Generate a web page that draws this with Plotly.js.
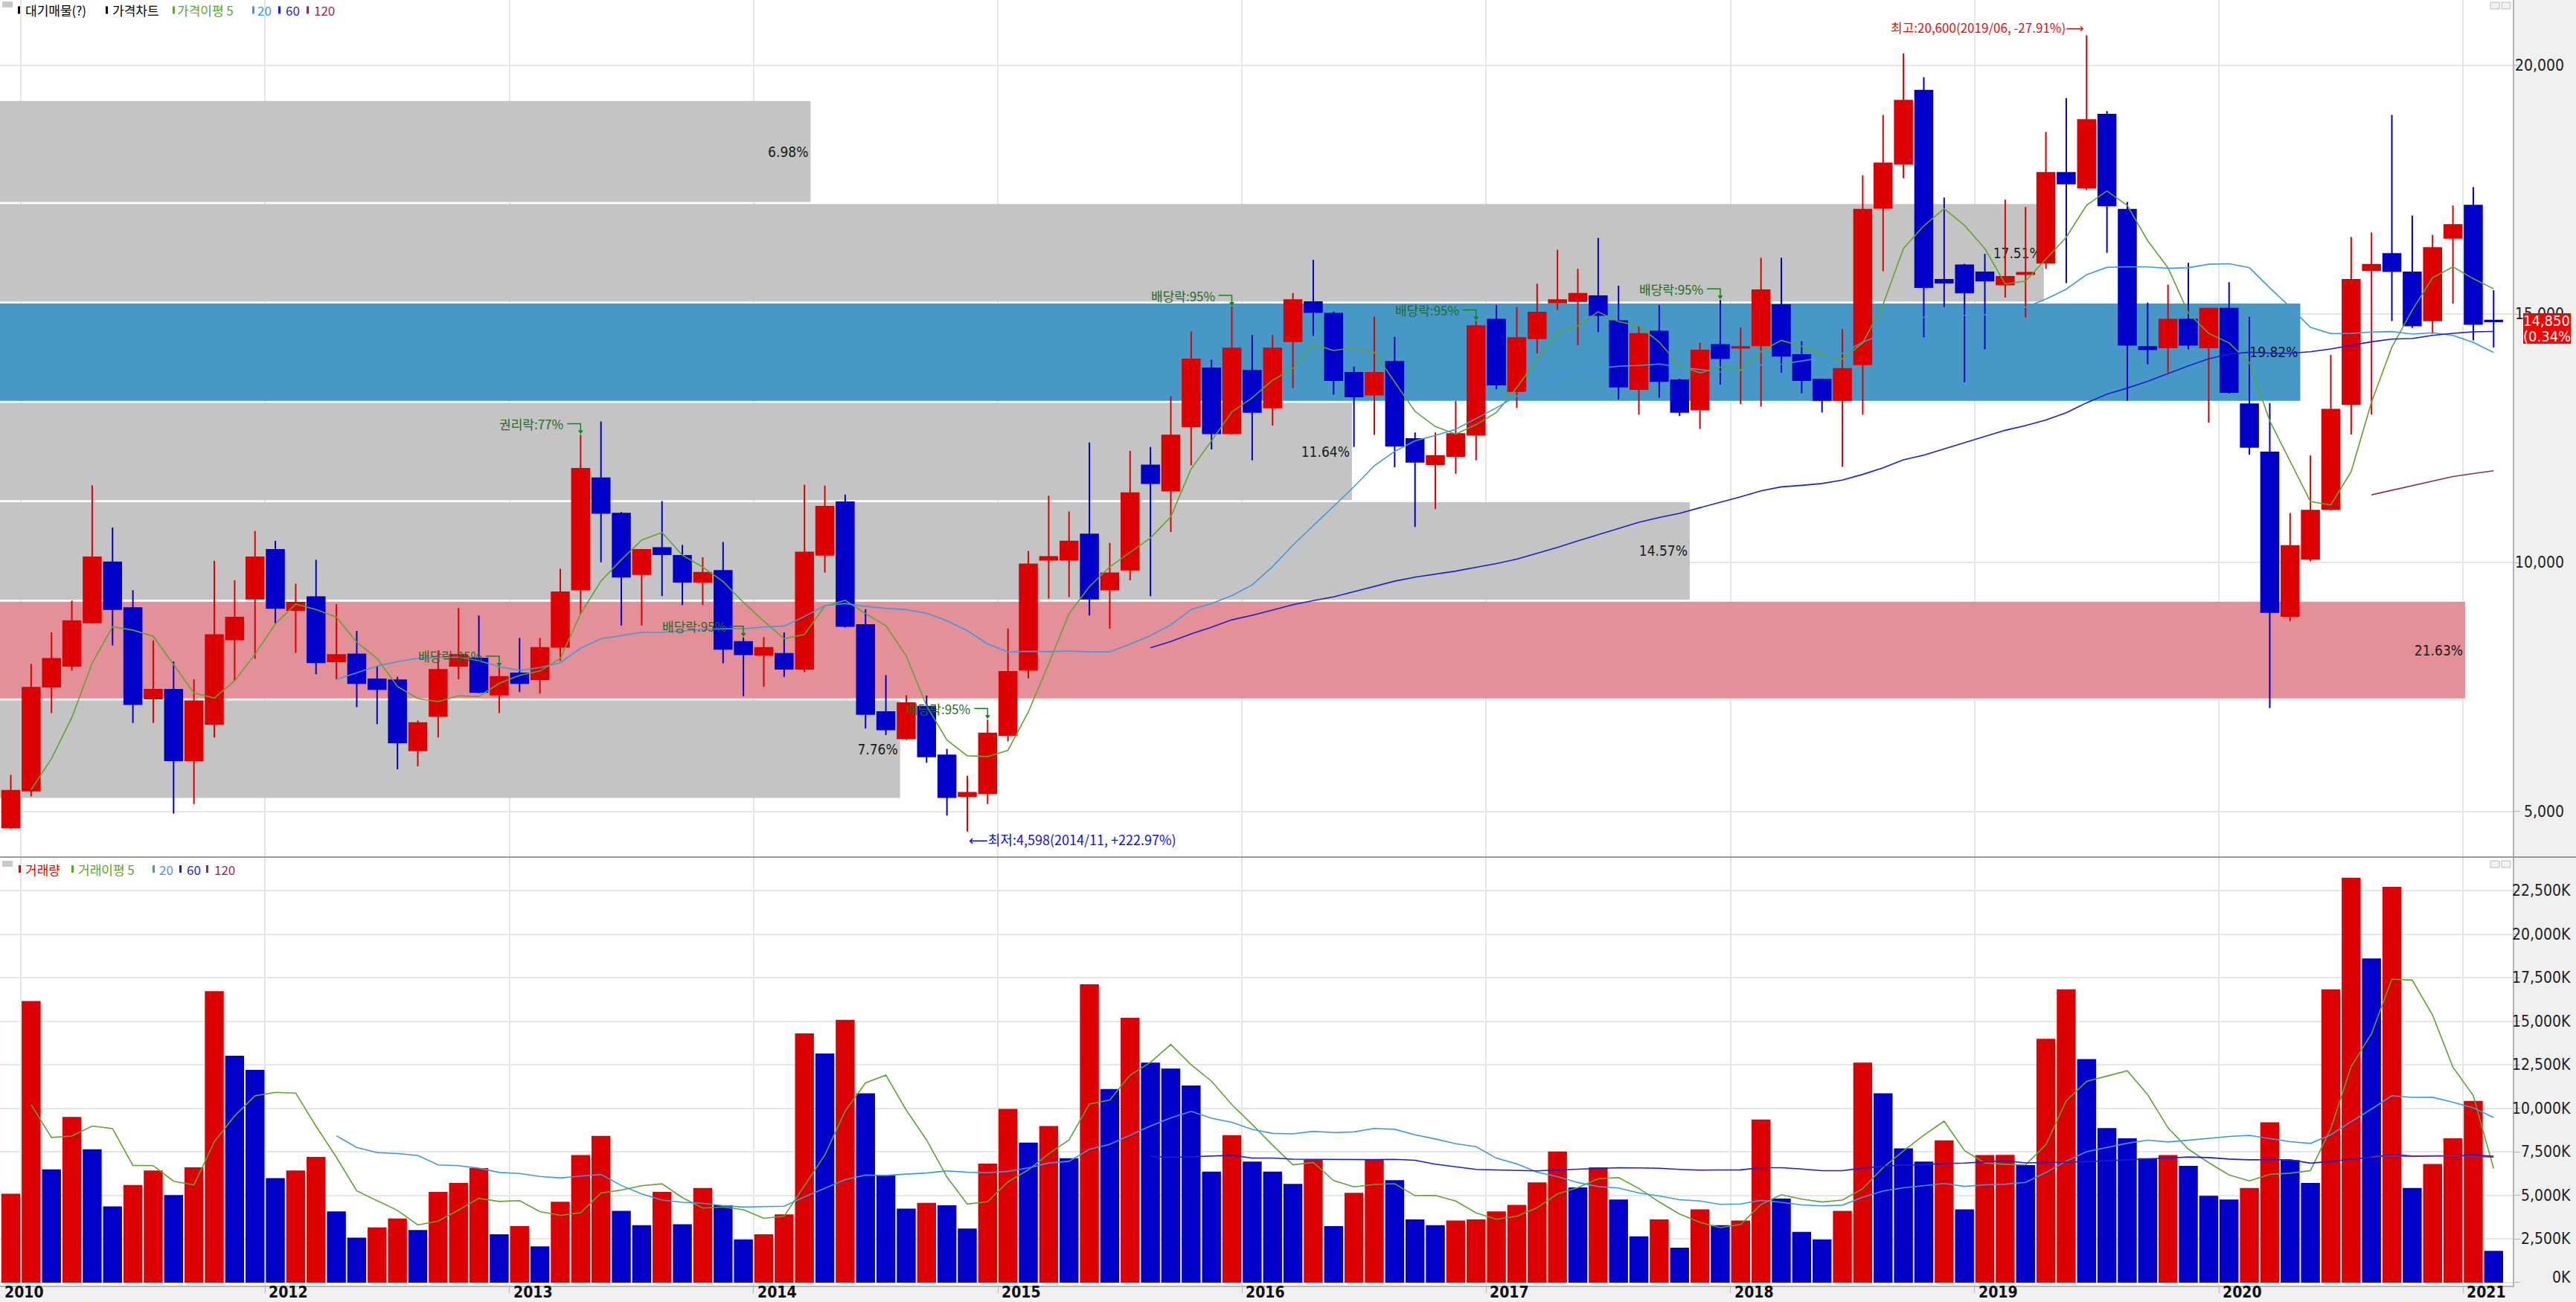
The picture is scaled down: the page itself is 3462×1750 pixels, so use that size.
<!DOCTYPE html>
<html>
<head>
<meta charset="utf-8">
<script src="https://cdn.plot.ly/plotly-3.0.1.min.js"></script>
<style>
  html, body { margin: 0; padding: 0; background: #f0f0f0; }
  #chart { width: 3462px; height: 1750px; }
</style>
</head>
<body>
<div id="chart"></div>
<script>
// ---------------- DATA (monthly candles) ----------------
const months = [
  '2010/12',
  '2011/01','2011/02','2011/03','2011/04','2011/05','2011/06','2011/07','2011/08','2011/09','2011/10','2011/11','2011/12',
  '2012/01','2012/02','2012/03','2012/04','2012/05','2012/06','2012/07','2012/08','2012/09','2012/10','2012/11','2012/12',
  '2013/01','2013/02','2013/03','2013/04','2013/05','2013/06','2013/07','2013/08','2013/09','2013/10','2013/11','2013/12',
  '2014/01','2014/02','2014/03','2014/04','2014/05','2014/06','2014/07','2014/08','2014/09','2014/10','2014/11','2014/12',
  '2015/01','2015/02','2015/03','2015/04','2015/05','2015/06','2015/07','2015/08','2015/09','2015/10','2015/11','2015/12',
  '2016/01','2016/02','2016/03','2016/04','2016/05','2016/06','2016/07','2016/08','2016/09','2016/10','2016/11','2016/12',
  '2017/01','2017/02','2017/03','2017/04','2017/05','2017/06','2017/07','2017/08','2017/09','2017/10','2017/11','2017/12',
  '2018/01','2018/02','2018/03','2018/04','2018/05','2018/06','2018/07','2018/08','2018/09','2018/10','2018/11','2018/12',
  '2019/01','2019/02','2019/03','2019/04','2019/05','2019/06','2019/07','2019/08','2019/09','2019/10','2019/11','2019/12',
  '2020/01','2020/02','2020/03','2020/04','2020/05','2020/06','2020/07','2020/08','2020/09','2020/10','2020/11','2020/12',
  '2021/01','2021/02'
];

const openPx = [
  4680,
  5420,7510,7930,8800,10010,9090,7270,7450,6030,6760,8460,9280,
  10260,9050,9310,8020,8160,7660,7640,6230,6920,7930,8080,7350,
  7780,7660,8310,9460,11700,10990,9770,10300,10140,9620,9840,8410,
  8150,8170,7870,10160,11220,8750,7000,6470,7110,6130,5310,5370,
  6540,7850,10060,10060,10570,9460,9860,11960,11450,12740,13910,12600,
  13860,13120,14450,15240,15010,13820,13380,14040,12490,11980,12140,12570,
  14890,13450,14510,15230,15260,15360,14860,13490,14650,13670,13080,14380,
  14320,14370,15180,14180,13680,13270,13990,17130,18020,19490,15690,15980,
  15840,15590,15800,16030,17840,17540,19010,17100,14340,14330,14890,14330,
  15110,13190,12220,8930,10080,11080,13190,15880,16210,15840,14870,16530,
  17180,14870
];
const highPx = [
  5740,
  7970,8600,9240,11560,10710,9450,8440,8020,7660,10040,9650,10640,
  10440,9580,10060,9170,8630,7930,7710,6830,8240,9090,8940,7900,
  8490,8490,9880,12570,12840,11020,10280,11240,10360,10110,10420,8500,
  8510,8600,11570,11550,11370,9070,7740,7340,7330,6260,5720,6850,
  8680,10240,11350,11030,12420,10400,12250,12330,13350,14650,14080,15150,
  14580,14580,15420,16090,15050,13940,14950,14540,12620,12620,13250,14860,
  15180,15140,15610,16290,15910,16530,15570,14760,15180,13700,14420,15280,
  14730,16130,16130,14450,13700,14700,17790,19000,20240,19760,17340,16010,
  16210,17300,17150,18660,19340,20600,19080,17250,15230,15590,16030,15120,
  15640,14940,13210,11000,12160,14180,16550,16640,19000,16980,16590,17180,
  17550,15480
];
const lowPx = [
  4650,
  5310,6980,7830,8780,8340,6780,6780,4960,5150,6490,7630,8070,
  8780,8190,7760,7660,7100,6760,5850,5910,6490,7660,7380,6980,
  7400,7370,8030,8970,10010,8740,8740,9330,9150,9150,7980,7320,
  7510,7710,7800,9800,8700,6670,6540,6440,5980,4920,4598,5150,
  6410,7680,9280,9310,8940,8680,9650,9330,10620,11960,12280,12580,
  12060,12760,13510,14560,13380,12330,12570,11920,10720,11080,11790,12060,
  13490,13110,14210,15080,14370,14640,13280,12980,13320,12950,12690,13580,
  13190,13140,13820,13410,13020,11930,12980,15860,17730,14530,15140,13630,
  14290,15330,14930,15910,15620,17490,16230,13260,13990,13820,14290,12820,
  13400,12170,7080,8830,10030,11050,12580,12980,14860,14720,14600,15210,
  14470,14330
];
const closePx = [
  5420,
  7490,8070,8830,10110,9070,7160,7450,6030,7220,8550,8900,10110,
  9090,9200,8000,8150,7580,7460,6390,6780,7850,8150,7400,7710,
  7580,8290,9410,11890,11000,9720,10260,10170,9620,9800,8270,8160,
  8290,7870,10210,11130,8730,6960,6650,7180,6110,5290,5380,6570,
  7810,9970,10120,10430,9280,9790,11400,11600,12560,14090,12600,14310,
  13030,14310,15280,15040,13670,13340,13820,12350,12030,12150,12590,14760,
  13580,14520,15030,15280,15410,14980,13540,14600,13650,13030,14270,14110,
  14340,15480,14160,13670,13270,13900,17100,18030,19290,15540,15630,15430,
  15670,15750,15830,17840,17620,18900,17180,14380,14290,14890,14380,15110,
  13430,12330,9010,10340,11050,13080,15690,15990,15860,14770,16330,16790,
  14800,14850
];
// monthly volume, thousands of shares
const volumeK = [
  5100,
  16160,6500,9510,7650,4380,5600,6440,5030,6620,16730,13020,12210,
  6000,6440,7220,4090,2580,3170,3680,3020,5210,5720,6570,2780,
  3240,2080,4640,7320,8420,4120,3300,5210,3350,5430,4440,2480,
  2780,3920,14300,13150,15080,10870,6160,4250,4580,4440,3110,6830,
  9970,8040,8990,7140,17120,11110,15200,12630,12290,11310,6370,8460,
  6950,6370,5670,7060,3240,5150,7060,5880,3630,3300,3560,3630,
  4090,4460,5750,7520,5470,6620,4770,2660,3630,2010,4200,3300,
  3560,9360,4820,2910,2480,4120,12630,10870,7710,6950,8170,4200,
  7320,7330,6750,13990,16830,12830,8870,8280,7140,7320,6700,4980,
  4770,5430,9200,7030,5720,16830,23240,18600,22710,5430,6810,8280,
  10430,1830
];
// the three months before the visible window (2010/09-2010/11), only used by the moving averages
const preWindowClose = [4950, 4700, 4640];
const preWindowVolumeK = [15900, 9100, 4800];
const maPeriods = [5, 20, 60, 120];

// 대기매물 (volume-at-price) bands
const bandLow   = [5256, 7253, 9240, 11238, 13236, 15232, 17230];
const bandHigh  = [7253, 9240, 11238, 13236, 15232, 17230, 19300];
const bandPct   = [7.76, 21.63, 14.57, 11.64, 19.82, 17.51, 6.98];
const bandReach = [43.7, 120.6, 82.5, 65.9, 112.5, 99.9, 39.3];   // bar length, in months from the left edge

const priceTicks = [5000, 10000, 15000, 20000];
const volumeTicksK = [0, 2500, 5000, 7500, 10000, 12500, 15000, 17500, 20000, 22500];
const yearLabels = ['2010','2012','2013','2014','2015','2016','2017','2018','2019','2020','2021'];
const yearLabelStart = ['2010/12','2012/01','2013/01','2014/01','2015/01','2016/01','2017/01','2018/01','2019/01','2020/01','2021/01'];

const eventMonths = ['2012/12','2013/04','2013/12','2014/12','2015/12','2016/12','2017/12'];
const eventLabels = ['배당락:95%','권리락:77%','배당락:95%','배당락:95%','배당락:95%','배당락:95%','배당락:95%'];

// ---------------- STYLE / LAYOUT ----------------
const W = 3462, H = 1750, MR = 85, MB = 22;
const PW = W - MR, PH = H - MB;
const px2x = px => px / PW;
const px2y = py => 1 - py / PH;

const RED = '#dc0000', BLUE = '#0000c8';
const MA_COLORS = ['#5ca62a', '#3a9be2', '#1d1dd2', '#8e2b5c'];
const NUM_FONT = '"Liberation Sans Narrow", "Arial Narrow", "DejaVu Sans Condensed", sans-serif';
const KR_FONT = '"Noto Sans CJK KR", "DejaVu Sans", sans-serif';
const fmt = v => v.toLocaleString('en-US');

const idx = months.map((m, i) => i);

function movingAverage(pre, vals, n) {
  const all = pre.concat(vals);
  return vals.map((v, i) => {
    const end = i + pre.length;
    if (end + 1 < n) return null;
    let s = 0;
    for (let k = end - n + 1; k <= end; k++) s += all[k];
    return s / n;
  });
}

const lastClose = closePx[closePx.length - 1];
const prevClose = closePx[closePx.length - 2];

// band colours: biggest band pink, band holding the last close blue
const maxPct = Math.max(...bandPct);
const bandColors = bandPct.map((p, k) => {
  if (lastClose >= bandLow[k] && lastClose < bandHigh[k]) return '#4898c7';
  if (p === maxPct) return '#e39098';
  return '#c4c4c4';
});
const BAND_BASE = -1;

const volColors = volumeK.map((v, i) => {
  const prev = i === 0 ? preWindowVolumeK[preWindowVolumeK.length - 1] : volumeK[i - 1];
  return v > prev ? RED : BLUE;
});

const traces = [];
traces.push({
  type: 'bar', orientation: 'h', xaxis: 'x', yaxis: 'y',
  y: bandLow.map((lo, k) => (lo + bandHigh[k]) / 2),
  x: bandReach.map(r => r - BAND_BASE),
  base: BAND_BASE,
  width: bandLow.map((lo, k) => bandHigh[k] - lo - 40),
  marker: { color: bandColors, line: { width: 0 } },
  text: bandPct.map(p => p.toFixed(2) + '%'),
  textposition: 'inside', insidetextanchor: 'end', textangle: 0, constraintext: 'none',
  insidetextfont: { family: NUM_FONT, size: 19, color: '#1a1a1a' },
  hoverinfo: 'skip'
});
traces.push({
  type: 'bar', xaxis: 'x', yaxis: 'y2', x: idx, y: volumeK, width: 0.93,
  marker: { color: volColors, line: { width: 0 } }, hoverinfo: 'skip'
});
traces.push({
  type: 'candlestick', xaxis: 'x', yaxis: 'y', x: idx,
  open: openPx, high: highPx, low: lowPx, close: closePx,
  increasing: { line: { color: RED, width: 2 }, fillcolor: RED },
  decreasing: { line: { color: BLUE, width: 2 }, fillcolor: BLUE },
  whiskerwidth: 0, hoverinfo: 'skip'
});
maPeriods.forEach((n, k) => {
  traces.push({ type: 'scatter', mode: 'lines', xaxis: 'x', yaxis: 'y', x: idx,
    y: movingAverage(preWindowClose, closePx, n), line: { color: MA_COLORS[k], width: 1.6 }, hoverinfo: 'skip' });
});
maPeriods.forEach((n, k) => {
  traces.push({ type: 'scatter', mode: 'lines', xaxis: 'x', yaxis: 'y2', x: idx,
    y: movingAverage(preWindowVolumeK, volumeK, n), line: { color: MA_COLORS[k], width: 1.6 }, hoverinfo: 'skip' });
});

const shapes = [];
const annotations = [];

// panel separator
shapes.push({ type: 'line', xref: 'paper', yref: 'paper', x0: 0, x1: px2x(W), y0: px2y(1152), y1: px2y(1152),
  line: { color: '#9a9a9a', width: 2 }, layer: 'above' });

// legends
function legendRow(yc, boxY0, items) {
  shapes.push({ type: 'rect', xref: 'paper', yref: 'paper', x0: px2x(3), x1: px2x(17), y0: px2y(boxY0), y1: px2y(boxY0 + 8),
    fillcolor: '#c8c8c8', line: { width: 0 }, layer: 'above' });
  items.forEach(it => {
    shapes.push({ type: 'rect', xref: 'paper', yref: 'paper', x0: px2x(it.m), x1: px2x(it.m + 3), y0: px2y(yc - 5), y1: px2y(yc + 5),
      fillcolor: it.c, line: { width: 0 }, layer: 'above' });
    annotations.push({ xref: 'paper', yref: 'paper', x: px2x(it.t), y: px2y(yc), xanchor: 'left', yanchor: 'middle',
      text: it.s, showarrow: false, font: { family: KR_FONT, size: 17, color: it.c } });
  });
}
legendRow(13.5, 2, [
  { m: 24, t: 32, s: '대기매물(?)', c: '#000000' },
  { m: 142, t: 149, s: '가격차트', c: '#000000' },
  { m: 232, t: 236, s: '가격이평 5', c: MA_COLORS[0] },
  { m: 339, t: 344, s: '20', c: MA_COLORS[1] },
  { m: 374, t: 382, s: '60', c: MA_COLORS[2] },
  { m: 412, t: 420, s: '120', c: MA_COLORS[3] }
]);
legendRow(1168, 1157, [
  { m: 25, t: 32, s: '거래량', c: '#e00000' },
  { m: 96, t: 103, s: '거래이평 5', c: MA_COLORS[0] },
  { m: 205, t: 212, s: '20', c: MA_COLORS[1] },
  { m: 241, t: 249, s: '60', c: MA_COLORS[2] },
  { m: 277, t: 286, s: '120', c: MA_COLORS[3] }
]);
// panel buttons (top right)
[3, 1157].forEach(y0 => {
  [3347, 3362].forEach(x0 => {
    shapes.push({ type: 'rect', xref: 'paper', yref: 'paper', x0: px2x(x0), x1: px2x(x0 + 12), y0: px2y(y0), y1: px2y(y0 + 9),
      fillcolor: '#f2f2f2', line: { color: '#bcbcbc', width: 1 }, layer: 'above' });
  });
});

// right axis labels
priceTicks.forEach(v => annotations.push({ xref: 'paper', yref: 'y', x: px2x(3448), y: v, xanchor: 'right', yanchor: 'middle',
  text: fmt(v), showarrow: false, font: { family: NUM_FONT, size: 21, color: '#222' } }));
volumeTicksK.forEach(v => annotations.push({ xref: 'paper', yref: 'y2', x: px2x(3457), y: v, xanchor: 'right', yanchor: 'middle',
  yshift: v === 0 ? 7 : 0, text: fmt(v) + 'K', showarrow: false, font: { family: NUM_FONT, size: 21, color: '#222' } }));

// current price box
const chg = ((lastClose / prevClose - 1) * 100).toFixed(2);
annotations.push({ xref: 'paper', yref: 'y', x: px2x(3455), y: lastClose, xanchor: 'right', yanchor: 'top', yshift: 11,
  width: 64, height: 20, borderpad: 0, borderwidth: 0, bgcolor: '#ff0000', align: 'left',
  text: fmt(lastClose), showarrow: false, font: { family: NUM_FONT, size: 20, color: '#ffffff' } });
annotations.push({ xref: 'paper', yref: 'y', x: px2x(3455), y: lastClose, xanchor: 'right', yanchor: 'top', yshift: -9,
  width: 64, height: 21, borderpad: 0, borderwidth: 0, bgcolor: '#ff0000', align: 'left',
  text: '(' + chg + '%)', showarrow: false, font: { family: NUM_FONT, size: 20, color: '#ffffff' } });

// x labels
yearLabels.forEach((t, k) => {
  const i = months.indexOf(yearLabelStart[k]);
  annotations.push({ xref: 'x', yref: 'paper', x: i - 0.5, y: px2y(1737), xanchor: 'left', yanchor: 'middle', xshift: 3,
    text: '<b>' + t + '</b>', showarrow: false, font: { family: NUM_FONT, size: 21, color: '#111' } });
});

// rights / dividend markers
eventMonths.forEach((m, k) => {
  const i = months.indexOf(m);
  const h = highPx[i];
  annotations.push({ xref: 'x', yref: 'y', x: i, y: h, xanchor: 'right', yanchor: 'middle', xshift: -21, yshift: 15,
    text: eventLabels[k], showarrow: false, font: { family: KR_FONT, size: 17, color: '#236b23' } });
  shapes.push({ type: 'path', xref: 'x', yref: 'y', xsizemode: 'pixel', ysizemode: 'pixel', xanchor: i, yanchor: h,
    path: 'M -18 15 L 0 15 L 0 5', line: { color: '#0b8a0b', width: 1.5 }, layer: 'above' });
  shapes.push({ type: 'path', xref: 'x', yref: 'y', xsizemode: 'pixel', ysizemode: 'pixel', xanchor: i, yanchor: h,
    path: 'M -3.5 6 L 3.5 6 L 0 1 Z', fillcolor: '#0b8a0b', line: { width: 0 }, layer: 'above' });
});

// highest / lowest markers
const maxHigh = Math.max(...highPx), iMax = highPx.indexOf(maxHigh);
const minLow = Math.min(...lowPx), iMin = lowPx.indexOf(minLow);
annotations.push({ xref: 'x', yref: 'y', x: iMax, y: maxHigh, xanchor: 'right', yanchor: 'middle', xshift: -1, yshift: 11,
  text: '최고:' + fmt(maxHigh) + '(' + months[iMax] + ', ' + ((lastClose / maxHigh - 1) * 100).toFixed(2) + '%)⟶',
  showarrow: false, font: { family: KR_FONT, size: 17, color: '#e01010' } });
annotations.push({ xref: 'x', yref: 'y', x: iMin, y: minLow, xanchor: 'left', yanchor: 'middle', xshift: 0, yshift: -10,
  text: '⟵최저:' + fmt(minLow) + '(' + months[iMin] + ', +' + ((lastClose / minLow - 1) * 100).toFixed(2) + '%)',
  showarrow: false, font: { family: KR_FONT, size: 18, color: '#1010e0' } });

const gridPos = months.map((m, i) => m.endsWith('/01') ? i - 0.5 : null).filter(v => v !== null);

const layout = {
  width: W, height: H,
  margin: { l: 0, r: MR, t: 0, b: MB, pad: 0 },
  paper_bgcolor: '#f0f0f0', plot_bgcolor: '#ffffff',
  showlegend: false,
  boxgap: 0.14, boxgroupgap: 0,
  font: { family: NUM_FONT, size: 18, color: '#222' },
  xaxis: {
    domain: [0, 1], range: [-0.53, 122.94], anchor: 'y2',
    tickmode: 'array', tickvals: gridPos, showticklabels: false,
    ticks: 'outside', ticklen: 8, tickwidth: 1, tickcolor: '#b4b4b4',
    showgrid: true, gridcolor: '#e6e6e6', gridwidth: 2, zeroline: false,
    showline: true, linecolor: '#b4b4b4', linewidth: 2,
    rangeslider: { visible: false }, fixedrange: true
  },
  yaxis: {
    domain: [px2y(1151), 1], range: [4101, 21311], side: 'right', anchor: 'x',
    tickmode: 'array', tickvals: priceTicks, showticklabels: false,
    ticks: 'outside', ticklen: 8, tickcolor: '#b4b4b4',
    showgrid: true, gridcolor: '#e6e6e6', gridwidth: 2, zeroline: false,
    showline: true, linecolor: '#b4b4b4', linewidth: 2, fixedrange: true
  },
  yaxis2: {
    domain: [0, px2y(1153)], range: [-171, 24379], side: 'right', anchor: 'x',
    tickmode: 'array', tickvals: volumeTicksK, showticklabels: false,
    ticks: 'outside', ticklen: 8, tickcolor: '#b4b4b4',
    showgrid: true, gridcolor: '#e6e6e6', gridwidth: 2, zeroline: false,
    showline: true, linecolor: '#b4b4b4', linewidth: 2, fixedrange: true
  },
  shapes: shapes,
  annotations: annotations
};

Plotly.newPlot('chart', traces, layout, { staticPlot: true, displayModeBar: false });
</script>
</body>
</html>
